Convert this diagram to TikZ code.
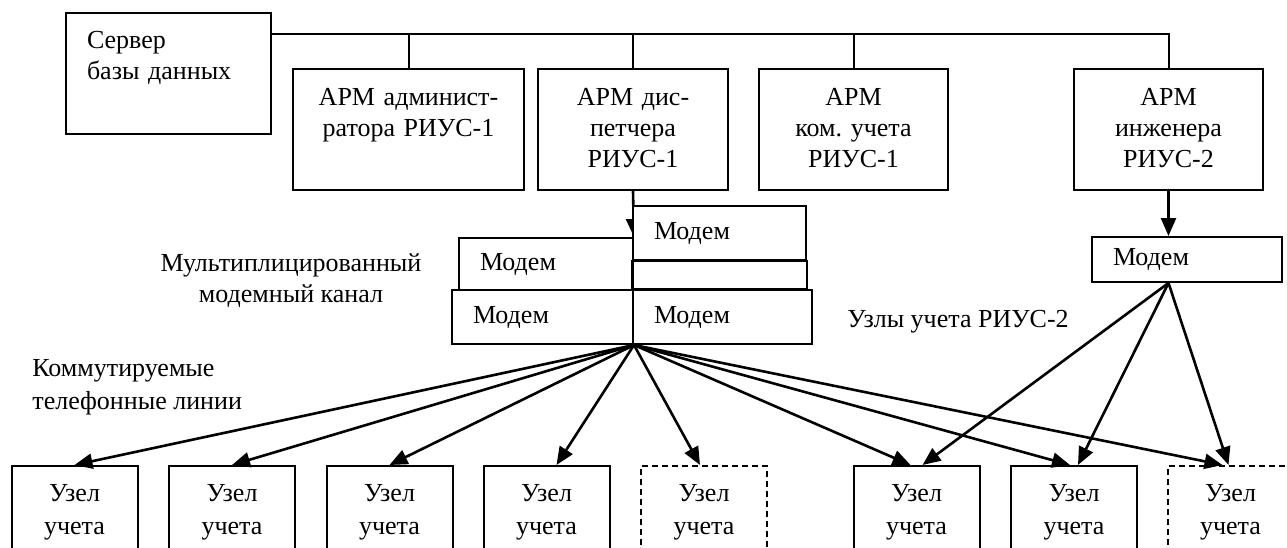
\documentclass[tikz,border=0pt]{standalone}
\usepackage{fontspec}
\setmainfont{Liberation Serif}
\usetikzlibrary{arrows.meta}
\frenchspacing

\begin{document}
\begin{tikzpicture}[x=0.5pt,y=-0.5pt,>={Triangle[length=9pt,width=7.5pt]},
  every node/.style={font=\fontsize{13}{15.5}\selectfont},
  box/.style={draw,line width=1pt,inner sep=0pt},
  arm/.style={box,align=center,text width=95pt,text height=18pt,text depth=42.5pt},
  modem/.style={box,fill=white,align=left,inner xsep=10.5pt,minimum height=27pt},
  uzel/.style={box,anchor=north,align=center,text width=63pt,text height=17.5pt,
    text depth=50pt,font=\fontsize{13}{16.5}\selectfont},
  dashuzel/.style={uzel,dash pattern=on 3pt off 2pt},
  line/.style={line width=1pt},
  arr/.style={->,line width=1.3pt}]
  \useasboundingbox (0,0) rectangle (1287,547);
  \clip (0,0) rectangle (1287,547);

  % workstations on the bus
  \node[arm,align=left,text width=81.5pt,inner xsep=10.5pt,text height=17.5pt,
    text depth=43pt] (srv) at (168.5,73.5) {Сервер\\базы данных};
  \node[arm,text width=115.5pt] (adm) at (408.5,129.5) {АРМ админист-\\ратора РИУС-1};
  \node[arm]                    (dsp) at (633,129.5)   {АРМ дис-\\петчера\\РИУС-1};
  \node[arm,text width=94.5pt]  (com) at (853.5,129.5) {АРМ\\ком. учета\\РИУС-1};
  \node[arm,text width=94.5pt]  (eng) at (1168.5,129.5) {АРМ\\инженера\\РИУС-2};

  \coordinate (bus) at (0,34);
  \draw[line] (srv.east |- bus) -| (eng.north);
  \draw[line] (adm.north) -- (adm.north |- bus);
  \draw[line] (dsp.north) -- (dsp.north |- bus);
  \draw[line] (com.north) -- (com.north |- bus);

  % modem stack
  \node[modem,text width=66pt,minimum height=26pt] (mB) at (546,264)   {Модем};
  \node[modem,text width=69.5pt] (mC) at (542.5,317) {Модем};
  \node[modem,text width=68.5pt] (mD) at (722.5,317) {Модем};
  \draw[arr] (dsp.south) -- (mB.north east);
  \node[modem,text width=65.5pt] (mA) at (719.5,233) {Модем};
  \draw[line] (mA.south west) rectangle (mA.south east |- mD.north);

  \node[modem,text width=74pt,minimum height=22.5pt] (mE) at (1187,259.5) {Модем};
  \draw[arr] (eng.south) -- (eng.south |- mE.north);

  \coordinate (fanA) at (mC.south east);
  \coordinate (fanB) at (eng.south |- mE.south);

  % labels
  \node[align=center,inner sep=0pt] (mux) at (291,281) {Мультиплицированный\\модемный канал};
  \node[align=left,inner sep=0pt,anchor=west,font=\fontsize{13}{16.5}\selectfont]
    (kom) at (32,387) {Коммутируемые\\телефонные линии};
  \node[inner sep=0pt,anchor=base west] (riu) at (847,327) {Узлы учета РИУС-2};

  % metering nodes
  \node[uzel]     (u1) at (74.5,465)   {Узел\\учета};
  \node[uzel]     (u2) at (232,465)    {Узел\\учета};
  \node[uzel]     (u3) at (389.5,465)  {Узел\\учета};
  \node[uzel]     (u4) at (546.5,465)  {Узел\\учета};
  \node[dashuzel] (u5) at (704,465)    {Узел\\учета};
  \node[uzel]     (u6) at (916.5,465)  {Узел\\учета};
  \node[uzel]     (u7) at (1074,465)   {Узел\\учета};
  \node[dashuzel] (u8) at (1230.5,465) {Узел\\учета};

  \draw[arr] (fanA) -- (u1.north);
  \draw[arr] (fanA) -- (u2.north);
  \draw[arr] (fanA) -- (u3.north);
  \draw[arr] (fanA) -- ([xshift=5pt]u4.north);
  \draw[arr] (fanA) -- ([xshift=-2pt]u5.north);
  \draw[arr] (fanA) -- ([xshift=-3pt]u6.north);
  \draw[arr] (fanA) -- ([xshift=-2pt]u7.north);
  \draw[arr] (fanA) -- ([xshift=-4pt]u8.north);
  \draw[arr] (fanB) -- ([xshift=3pt]u6.north);
  \draw[arr] (fanB) -- ([xshift=2pt]u7.north);
  \draw[arr] (fanB) -- ([xshift=-1pt]u8.north);
\end{tikzpicture}
\end{document}
